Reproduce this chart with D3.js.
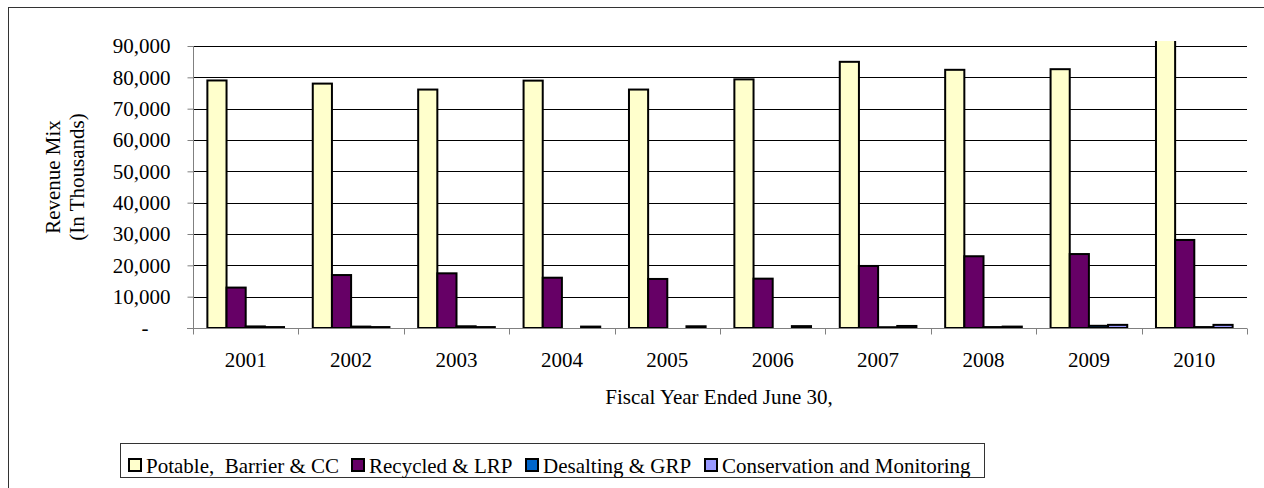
<!DOCTYPE html>
<html>
<head>
<meta charset="utf-8">
<script src="https://cdn.jsdelivr.net/npm/d3@7"></script>
<style>
  body { margin: 0; background: #fff; }
  svg text { font-family: "Liberation Serif", "Times New Roman", serif; fill: #000; }
</style>
</head>
<body>
<svg id="chart" width="1264" height="488"></svg>
<script>
// fiscal years and revenue (in thousands)
const years = ['2001', '2002', '2003', '2004', '2005', '2006', '2007', '2008', '2009', '2010'];
const potable = [79000, 78000, 76100, 78950, 76100, 79350, 84950, 82400, 82600, 95000];
const recycled = [12900, 16900, 17450, 16050, 15650, 15750, 19800, 22900, 23600, 28100];
const desalting = [500, 450, 550, 0, 0, 0, 250, 300, 700, 300];
const conservation = [300, 300, 300, 450, 550, 600, 650, 450, 1000, 1000];

const seriesNames = ['Potable,  Barrier & CC', 'Recycled & LRP', 'Desalting & GRP', 'Conservation and Monitoring'];
const seriesColors = ['#FFFFCC', '#660066', '#0066CC', '#9999FF'];
const yTicks = [0, 10000, 20000, 30000, 40000, 50000, 60000, 70000, 80000, 90000];

const allSeries = [potable, recycled, desalting, conservation];
const fontSize = '21px';

const svg = d3.select('#chart');

// outer frame (runs past right and bottom edges)
svg.append('rect')
    .attr('x', 8.5).attr('y', 7.5)
    .attr('width', 1270).attr('height', 500)
    .attr('fill', 'none')
    .attr('stroke', '#333')
    .attr('stroke-width', 1);

const plot = { left: 193, right: 1247, top: 46, bottom: 328 };

const x = d3.scaleBand()
    .domain(years)
    .range([plot.left, plot.right]);

// 4 bars per category, 150% gap width
const barW = x.bandwidth() / 5.5;
const x1 = d3.scaleBand()
    .domain(d3.range(4))
    .range([0.75 * barW, 0.75 * barW + 4 * barW]);

const y = d3.scaleLinear()
    .domain([0, 90000])
    .range([plot.bottom, plot.top]);

// gridlines
svg.append('g')
    .selectAll('line')
    .data(yTicks.filter(d => d > 0))
    .join('line')
    .attr('x1', plot.left).attr('x2', plot.right)
    .attr('y1', d => Math.round(y(d)) + 0.5)
    .attr('y2', d => Math.round(y(d)) + 0.5)
    .attr('stroke', '#000')
    .attr('stroke-width', 1);

// y axis
const yAxis = svg.append('g')
    .attr('transform', `translate(${plot.left + 0.5},0)`)
    .call(d3.axisLeft(y)
        .tickValues(yTicks)
        .tickSize(6)
        .tickFormat(d => d === 0 ? '-' : d3.format(',')(d)));
yAxis.select('.domain').attr('stroke', '#808080').attr('d', `M0,${plot.top}V${plot.bottom}`);
yAxis.selectAll('.tick line').attr('stroke', '#808080');
yAxis.selectAll('.tick text')
    .attr('x', -23)
    .style('font-size', fontSize);
yAxis.selectAll('.tick').filter(d => d === 0).select('text').attr('x', -45);

// clip bars to plot area
svg.append('clipPath').attr('id', 'plotClip')
    .append('rect')
    .attr('x', plot.left).attr('y', plot.top - 5)
    .attr('width', plot.right - plot.left)
    .attr('height', plot.bottom - plot.top + 5);

const barData = [];
years.forEach((yr, i) => {
    allSeries.forEach((s, k) => {
        if (s[i] > 0) barData.push({ year: yr, k: k, value: s[i] });
    });
});

svg.append('g')
    .attr('clip-path', 'url(#plotClip)')
    .selectAll('rect')
    .data(barData)
    .join('rect')
    .attr('x', d => x(d.year) + x1(d.k))
    .attr('y', d => y(d.value))
    .attr('width', x1.bandwidth())
    .attr('height', d => plot.bottom - y(d.value))
    .attr('fill', d => seriesColors[d.k])
    .attr('stroke', '#000')
    .attr('stroke-width', 2);

// x axis
const xAxis = svg.append('g')
    .attr('transform', `translate(0,${plot.bottom + 0.5})`);
xAxis.append('line')
    .attr('x1', plot.left - 6).attr('x2', plot.right)
    .attr('stroke', '#808080');
xAxis.selectAll('line.tick')
    .data(d3.range(years.length + 1))
    .join('line')
    .attr('class', 'tick')
    .attr('x1', i => Math.round(plot.left + i * x.step()) + 0.5)
    .attr('x2', i => Math.round(plot.left + i * x.step()) + 0.5)
    .attr('y1', 0).attr('y2', 6)
    .attr('stroke', '#808080');
xAxis.selectAll('text')
    .data(years)
    .join('text')
    .attr('x', d => x(d) + x.bandwidth() / 2)
    .attr('y', 38)
    .attr('text-anchor', 'middle')
    .style('font-size', fontSize)
    .text(d => d);

// axis titles
svg.append('text')
    .attr('transform', 'translate(719,404)')
    .attr('text-anchor', 'middle')
    .style('font-size', fontSize)
    .text('Fiscal Year Ended June 30,');

const yTitle = svg.append('text')
    .attr('transform', 'translate(0,177) rotate(-90)')
    .attr('text-anchor', 'middle')
    .style('font-size', fontSize);
yTitle.append('tspan').attr('x', 0).attr('y', 60).text('Revenue Mix');
yTitle.append('tspan').attr('x', 0).attr('y', 84).text('(In Thousands)');

// legend
const legend = svg.append('g');
legend.append('rect')
    .attr('x', 120.5).attr('y', 443.5)
    .attr('width', 864).attr('height', 34)
    .attr('fill', '#fff')
    .attr('stroke', '#333');

const legendX = [129, 352, 526, 705];
const items = legend.selectAll('g.item')
    .data(seriesNames)
    .join('g')
    .attr('class', 'item')
    .attr('transform', (d, i) => `translate(${legendX[i]},459)`);
items.append('rect')
    .attr('width', 12).attr('height', 12)
    .attr('fill', (d, i) => seriesColors[i])
    .attr('stroke', '#000')
    .attr('stroke-width', 2);
items.append('text')
    .attr('x', 17).attr('y', 14)
    .style('font-size', fontSize)
    .style('white-space', 'pre')
    .text(d => d);
</script>
</body>
</html>
